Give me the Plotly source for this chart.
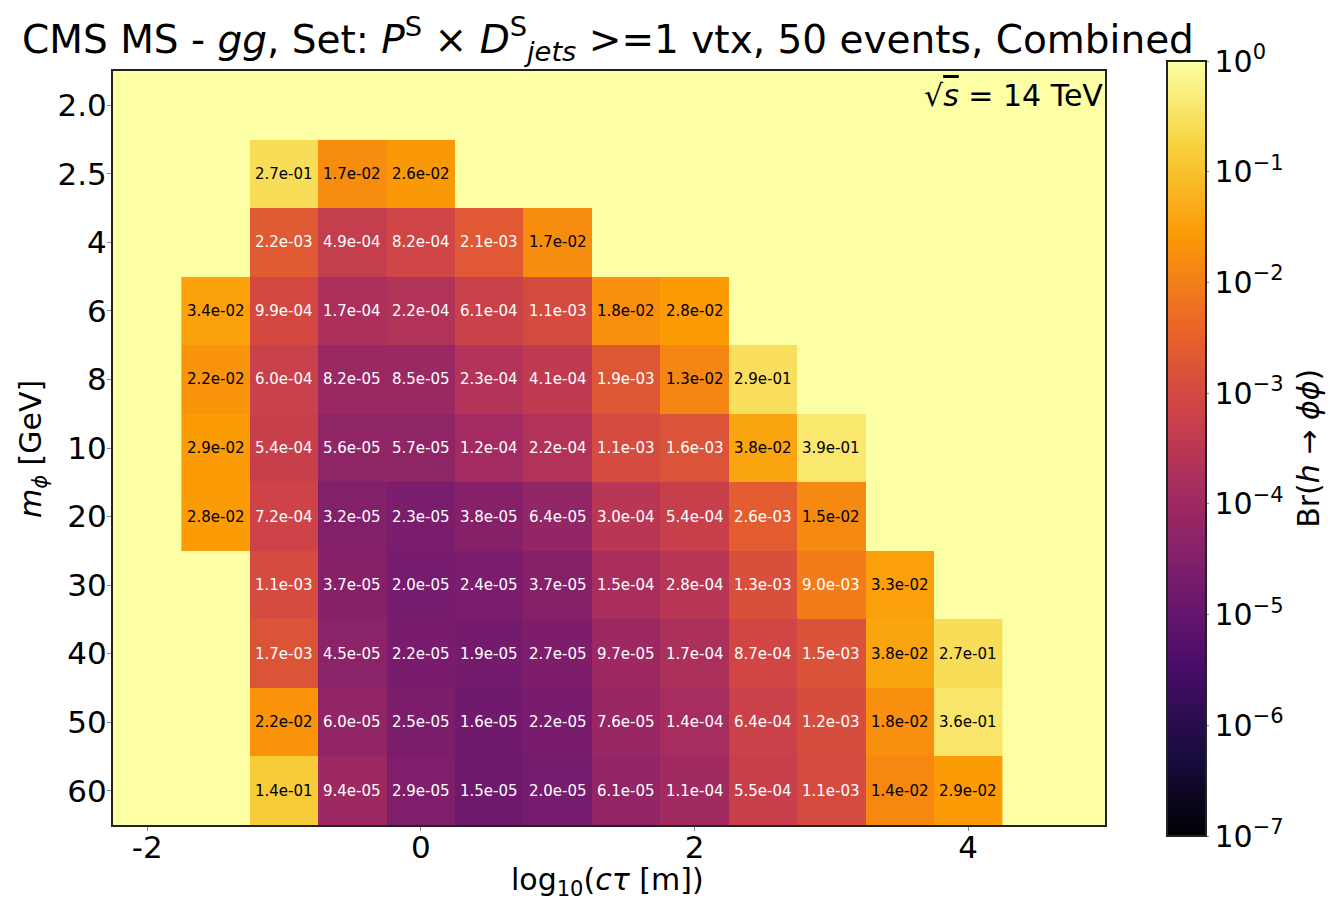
import numpy as np
import plotly.graph_objects as go

# log10(c*tau [m]) bin centres
ctau_log = [-1.5, -1.0, -0.5, 0.0, 0.5, 1.0, 1.5, 2.0, 2.5, 3.0, 3.5, 4.0]
mass_labels = ["2.0", "2.5", "4", "6", "8", "10", "20", "30", "40", "50", "60"]

# Br(h -> phi phi) limits per mass row (None = no limit)
br_2p0 = [None, None, None, None, None, None, None, None, None, None, None, None]
br_2p5 = [None, 2.7e-01, 1.7e-02, 2.6e-02, None, None, None, None, None, None, None, None]
br_4 = [None, 2.2e-03, 4.9e-04, 8.2e-04, 2.1e-03, 1.7e-02, None, None, None, None, None, None]
br_6 = [3.4e-02, 9.9e-04, 1.7e-04, 2.2e-04, 6.1e-04, 1.1e-03, 1.8e-02, 2.8e-02, None, None, None, None]
br_8 = [2.2e-02, 6.0e-04, 8.2e-05, 8.5e-05, 2.3e-04, 4.1e-04, 1.9e-03, 1.3e-02, 2.9e-01, None, None, None]
br_10 = [2.9e-02, 5.4e-04, 5.6e-05, 5.7e-05, 1.2e-04, 2.2e-04, 1.1e-03, 1.6e-03, 3.8e-02, 3.9e-01, None, None]
br_20 = [2.8e-02, 7.2e-04, 3.2e-05, 2.3e-05, 3.8e-05, 6.4e-05, 3.0e-04, 5.4e-04, 2.6e-03, 1.5e-02, None, None]
br_30 = [None, 1.1e-03, 3.7e-05, 2.0e-05, 2.4e-05, 3.7e-05, 1.5e-04, 2.8e-04, 1.3e-03, 9.0e-03, 3.3e-02, None]
br_40 = [None, 1.7e-03, 4.5e-05, 2.2e-05, 1.9e-05, 2.7e-05, 9.7e-05, 1.7e-04, 8.7e-04, 1.5e-03, 3.8e-02, 2.7e-01]
br_50 = [None, 2.2e-02, 6.0e-05, 2.5e-05, 1.6e-05, 2.2e-05, 7.6e-05, 1.4e-04, 6.4e-04, 1.2e-03, 1.8e-02, 3.6e-01]
br_60 = [None, 1.4e-01, 9.4e-05, 2.9e-05, 1.5e-05, 2.0e-05, 6.1e-05, 1.1e-04, 5.5e-04, 1.1e-03, 1.4e-02, 2.9e-02]

rows = [br_2p0, br_2p5, br_4, br_6, br_8, br_10, br_20, br_30, br_40, br_50, br_60]
z = [[np.log10(v) if v is not None else None for v in r] for r in rows]
row_idx = list(range(len(mass_labels)))

cb_vals = [-7, -6, -5, -4, -3, -2, -1, 0]
cb_text = ["10<sup>\u2212%d</sup>" % -v if v < 0 else "10<sup>0</sup>" for v in cb_vals]

FONT = "DejaVu Sans"

fig = go.Figure(go.Heatmap(
    x=ctau_log, y=row_idx, z=z,
    colorscale="Inferno", zmin=-7, zmax=0,
    hoverongaps=False,
    colorbar=dict(
        x=1.0625, xanchor="left", xref="paper", xpad=0, ypad=0,
        y=0.4993, yanchor="middle", len=1.028, lenmode="fraction",
        thickness=39, thicknessmode="pixels",
        outlinewidth=2, outlinecolor="#222",
        tickvals=cb_vals, ticktext=cb_text,
        ticks="outside", ticklen=2, tickcolor="#888",
        tickfont=dict(size=30, family=FONT, color="black"),
    ),
))

# cell labels
for r, i in zip(rows, row_idx):
    for xc, v in zip(ctau_log, r):
        if v is None:
            continue
        fig.add_annotation(x=xc, y=i, text=f"{v:.1e}", showarrow=False,
                           font=dict(size=15, family=FONT,
                                     color="white" if v < 1e-2 else "black"))

fig.add_annotation(xref="paper", yref="paper", x=1.0, y=1.0, xanchor="right", yanchor="top",
                   yshift=-5,
                   text="\u221a<span style='text-decoration:overline'><i>s</i></span> = 14 TeV",
                   showarrow=False, font=dict(size=30, family=FONT, color="black"))

# colorbar label
fig.add_annotation(xref="paper", yref="paper", x=1.2045, y=0.5, textangle=-90,
                   xanchor="center", yanchor="middle",
                   text="Br(<i>h</i> \u2192 <i>\u03d5\u03d5</i>)", showarrow=False,
                   font=dict(size=30, family=FONT, color="black"))

# axis titles
fig.add_annotation(xref="paper", yref="paper", x=0.498, y=-0.0743,
                   xanchor="center", yanchor="middle",
                   text="log<sub>10</sub>(<i>c\u03c4</i> [m])", showarrow=False,
                   font=dict(size=30, family=FONT, color="black"))
fig.add_annotation(xref="paper", yref="paper", x=-0.0806, y=0.4987, textangle=-90,
                   xanchor="center", yanchor="middle",
                   text="<i>m</i><sub><i>\u03d5</i></sub> [GeV]", showarrow=False,
                   font=dict(size=30, family=FONT, color="black"))

fig.update_layout(
    width=1338, height=912,
    margin=dict(l=105, r=241, t=63, b=95, autoexpand=False),
    paper_bgcolor="white", plot_bgcolor="#fcffa4",
    font=dict(family=FONT, color="black"),
    title=dict(text="CMS MS - <i>gg</i>, Set: <i>P</i><sup>S</sup> \u00d7 <i>D</i><sup>S</sup><sub><i>jets</i></sub> >=1 vtx, 50 events, Combined",
               x=600 / 1338, xanchor="center", xref="container", y=1 - 31 / 912, yanchor="middle",
               font=dict(size=39, family=FONT, color="black")),
    xaxis=dict(range=[-2.25, 5], tickvals=[-2, 0, 2, 4], ticktext=["-2", "0", "2", "4"],
               automargin=False, ticklabelstandoff=-10,
               showgrid=False, zeroline=False, showline=True, mirror=True,
               linecolor="#222", linewidth=2, ticks="outside", ticklen=4, tickcolor="#888",
               tickfont=dict(size=31)),
    yaxis=dict(range=[len(mass_labels) - 0.5, -0.5], tickvals=row_idx, ticktext=mass_labels,
               automargin=False, ticklabelstandoff=-6,
               showgrid=False, zeroline=False, showline=True, mirror=True,
               linecolor="#222", linewidth=2, ticks="outside", ticklen=4, tickcolor="#888",
               tickfont=dict(size=31)),
)

fig.write_html("out.html")
